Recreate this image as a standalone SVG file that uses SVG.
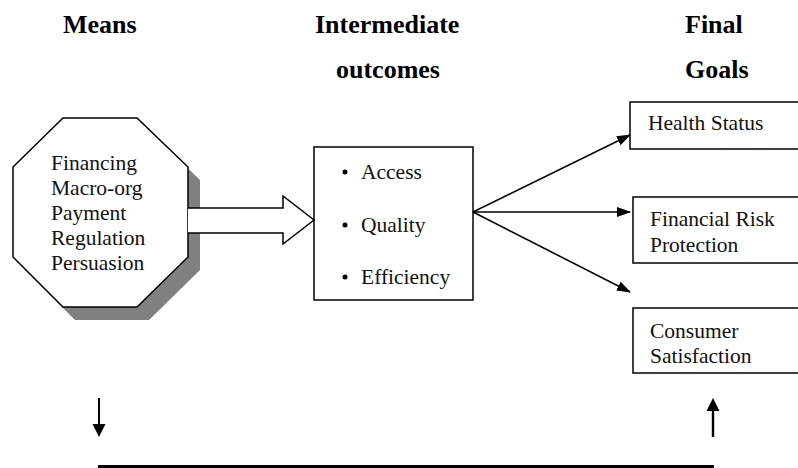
<svg xmlns="http://www.w3.org/2000/svg" width="798" height="468" viewBox="0 0 798 468">
<defs>
<style>
.hdr{font-family:"Liberation Serif","Times New Roman",serif;font-weight:bold;font-size:26px;fill:#000}
.txt{font-family:"Liberation Serif","Times New Roman",serif;font-size:21.5px;fill:#111}
.box{fill:#fff;stroke:#000;stroke-width:1.5}
.ln{stroke:#000;stroke-width:1.6;fill:none}
</style>
<marker id="ah" markerWidth="14" markerHeight="10" refX="13" refY="5" orient="auto" markerUnits="userSpaceOnUse">
<path d="M0,0 L14,5 L0,10 Z" fill="#000"/>
</marker>
</defs>
<rect width="798" height="468" fill="#fff"/>
<g id="headers">
<text class="hdr" x="63" y="33">Means</text>
<text class="hdr" x="315" y="33">Intermediate</text>
<text class="hdr" x="336" y="78">outcomes</text>
<text class="hdr" x="685" y="33">Final</text>
<text class="hdr" x="685" y="78">Goals</text>
</g>
<g id="means">
<polygon points="75,131 149,131 200,180 200,270 149,320 75,320 25,270 25,180" fill="#808080"/>
<polygon class="box" points="63,118 137,118 188,167 188,257 137,307 63,307 13,257 13,167"/>
<text class="txt" x="51" y="170">Financing</text>
<text class="txt" x="51" y="195">Macro-org</text>
<text class="txt" x="51" y="220">Payment</text>
<text class="txt" x="51" y="245">Regulation</text>
<text class="txt" x="51" y="270">Persuasion</text>
</g>
<g id="outcomes">
<rect class="box" x="314" y="147" width="159" height="153"/>
<circle cx="345" cy="172" r="2.5" fill="#000"/>
<circle cx="345" cy="225" r="2.5" fill="#000"/>
<circle cx="345" cy="277" r="2.5" fill="#000"/>
<text class="txt" x="361" y="179">Access</text>
<text class="txt" x="361" y="232">Quality</text>
<text class="txt" x="361" y="284">Efficiency</text>
</g>
<g id="health">
<rect class="box" x="630" y="102" width="180" height="47"/>
<text class="txt" x="648" y="130">Health Status</text>
</g>
<g id="financial">
<rect class="box" x="633" y="197" width="180" height="66"/>
<text class="txt" x="650" y="226">Financial Risk</text>
<text class="txt" x="650" y="252">Protection</text>
</g>
<g id="consumer">
<rect class="box" x="633" y="308" width="180" height="65"/>
<text class="txt" x="650" y="338">Consumer</text>
<text class="txt" x="650" y="363">Satisfaction</text>
</g>
<g id="connectors">
<path class="box" d="M188,208 L283,208 L283,196 L314,220 L283,244 L283,233 L188,233"/>
<line class="ln" x1="473" y1="212" x2="630" y2="135" marker-end="url(#ah)"/>
<line class="ln" x1="473" y1="212" x2="630" y2="212" marker-end="url(#ah)"/>
<line class="ln" x1="473" y1="212" x2="630" y2="292" marker-end="url(#ah)"/>
<line x1="99" y1="398" x2="99" y2="426" stroke="#000" stroke-width="2"/>
<path d="M92.5,424 L105.5,424 L99,437 Z" fill="#000"/>
<line x1="713" y1="410" x2="713" y2="437" stroke="#000" stroke-width="2.4"/>
<path d="M706.5,411 L719.5,411 L713,398 Z" fill="#000"/>
<rect x="98" y="465" width="616" height="5" fill="#000"/>
</g>
</svg>
